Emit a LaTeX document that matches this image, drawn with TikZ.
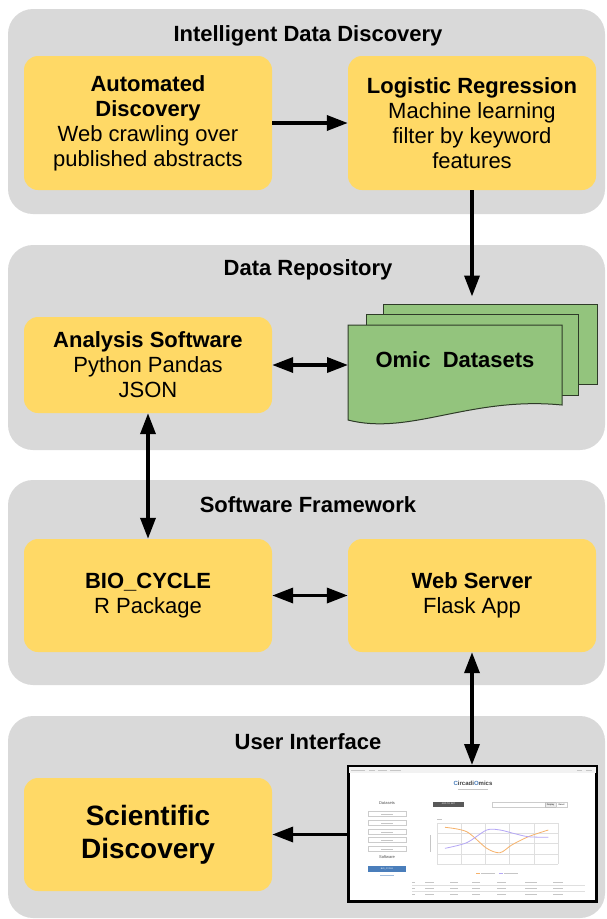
\documentclass[tikz,border=0pt]{standalone}
\usepackage{fontspec}
\setmainfont{Liberation Sans}
\usetikzlibrary{arrows.meta}
\definecolor{panelgray}{HTML}{D9D9D9}
\definecolor{boxyellow}{HTML}{FFD966}
\definecolor{sheetgreen}{HTML}{93C47D}
\definecolor{sheetline}{HTML}{2E3B28}
\definecolor{uiorange}{HTML}{F6B26B}
\definecolor{uipurple}{HTML}{B4A7F5}
\definecolor{uiblue}{HTML}{4A7EBB}
\tikzstyle{panel}=[fill=panelgray, rounded corners=25pt, minimum width=597pt, minimum height=205pt, inner sep=0pt]
\tikzstyle{panel title}=[font=\fontsize{22}{25}\selectfont\bfseries]
\tikzstyle{box}=[fill=boxyellow, rounded corners=14pt, minimum width=248pt, inner sep=0pt, align=center, font=\fontsize{22}{25}\selectfont]
\tikzstyle{sheet}=[fill=sheetgreen, draw=sheetline, line width=1pt]
\tikzstyle{one way}=[line width=3.5pt, -{Triangle[length=21pt,width=15pt]}]
\tikzstyle{two way}=[line width=3.5pt, {Triangle[length=21pt,width=15pt]}-{Triangle[length=21pt,width=15pt]}]
\tikzstyle{tiny}=[font=\fontsize{2.2}{2.5}\selectfont, inner sep=0pt]
\tikzstyle{ghost}=[fill=gray!45]
\tikzstyle{grid}=[gray!25, line width=0.3pt]

\begin{document}
\begin{tikzpicture}[x=1pt, y=-1pt]
  \useasboundingbox (0,0) rectangle (606,919);

  % layers
  \node[panel] (pdisc) at (306.5,111.5) {};
  \node[panel] (prepo) at (306.5,347.5) {};
  \node[panel] (pfram) at (306.5,582.5) {};
  \node[panel, minimum height=202pt] (puser) at (306.5,817) {};
  \node[panel title] (tdisc) at (308,36) {Intelligent Data Discovery};
  \node[panel title] (trepo) at (308,270) {Data Repository};
  \node[panel title] (tfram) at (308,505) {Software Framework};
  \node[panel title] (tuser) at (308,742) {User Interface};

  % steps
  \node[box, minimum height=134pt] (auto) at (148,123) {\textbf{Automated}\\\textbf{Discovery}\\Web crawling over\\published abstracts};
  \node[box, minimum height=134pt] (logreg) at (472,123) {\textbf{Logistic Regression}\\Machine learning\\filter by keyword\\features};
  \node[box, minimum height=96pt] (ana) at (148,365) {\textbf{Analysis Software}\\Python Pandas\\JSON};
  \node[box, minimum height=113pt] (bio) at (148,595.5) {\textbf{BIO\_CYCLE}\\R Package};
  \node[box, minimum height=113pt] (web) at (472,595.5) {\textbf{Web Server}\\Flask App};
  \node[box, minimum height=113pt, font=\fontsize{28}{33}\selectfont\bfseries] (sci) at (148,834.5) {Scientific\\Discovery};

  % datasets stack
  \node[sheet, minimum width=214pt, minimum height=80pt] (sheetback) at (490,344) {};
  \node[sheet, minimum width=212pt, minimum height=81pt] (sheetmid) at (472,354.5) {};
  \draw[sheet] (348,325) -- (562,325) -- (562,405) .. controls (470,396) and (410,436) .. (348,420) -- cycle;
  \node[font=\fontsize{22}{25}\selectfont\bfseries] (omic) at (455,360) {Omic\ \ Datasets};
  \coordinate (omicleft) at (348,365);

  % web app screenshot
  \node[draw, line width=3pt, fill=white, minimum width=248pt, minimum height=135pt, inner sep=0pt] (shot) at (472.5,834) {};
  \fill[gray!10] (349,767) rectangle (596,773);
  \foreach \x/\w in {351/14,369/6,378/9,390/11,577/5,586/6}
    \fill[ghost] (\x,769.5) rectangle (\x+\w,770.5);
  \node[font=\fontsize{6}{7}\selectfont\bfseries, text=black!75] (uititle) at (473,783) {\textcolor{uiblue}{C}ircadi\textcolor{uiblue}{O}mics};
  \fill[ghost] (458,788.5) rectangle (488,789.5);
  \node[font=\fontsize{4}{5}\selectfont, text=black!70] (uidata) at (387,803) {Datasets};
  \foreach \y in {814,823,832,840,849} {
    \draw[gray!40, line width=0.3pt] (368,\y-2.5) rectangle (406,\y+2.5);
    \fill[ghost] (381,\y-0.4) rectangle (393,\y+0.4);
  }
  \node[font=\fontsize{4}{5}\selectfont, text=black!70] (uisoft) at (387,857) {Software};
  \fill[uiblue] (368,866) rectangle (406,872);
  \node[tiny, text=white] (uibio) at (387,869) {BIO\_CYCLE};
  \fill[uiblue!50] (380,875) rectangle (394,876);
  \fill[gray!70!black] (433,801.5) rectangle (464,806.5);
  \node[tiny, text=white] (uiadd) at (448.5,804) {ADD TO SET};
  \draw[gray!40, line width=0.3pt] (492,802) rectangle (545,807);
  \draw[gray!50, fill=gray!15, line width=0.3pt] (545,802) rectangle (556,807);
  \draw[gray!40, line width=0.3pt] (556,802) rectangle (567,807);
  \node[tiny] (uidisp) at (550.5,804.5) {Display};
  \node[tiny] (uireset) at (561.5,804.5) {Reset};

  % chart
  \foreach \y in {823,833.25,843.5,853.75,864}
    \draw[grid] (437,\y) -- (558,\y);
  \foreach \x in {437,461.2,485.4,509.6,533.8,558}
    \draw[grid] (\x,823) -- (\x,864);
  \fill[ghost] (429.5,835) rectangle (430.5,852);
  \fill[ghost] (437,818.5) rectangle (442,819.5);
  \draw[uiorange, line width=0.8pt] plot[smooth] coordinates {(445,827.3) (466.7,831.7) (486.7,848.3) (500,852.7) (511.7,845) (528.3,836.7) (548.3,830)};
  \draw[uipurple, line width=0.8pt] plot[smooth] coordinates {(445,848.3) (466.7,842.7) (486.7,830) (500,830) (513.3,833.3) (528.3,836.7) (548.3,837.3)};
  \draw[uiorange, line width=0.6pt] (476,873) -- (480,873);
  \fill[ghost] (481,872.5) rectangle (495,873.5);
  \draw[uipurple, line width=0.6pt] (499,873) -- (503,873);
  \fill[ghost] (504,872.5) rectangle (518,873.5);

  % table
  \foreach \y in {885,891}
    \draw[grid] (412,\y) -- (585,\y);
  \foreach \x/\w in {412/3,425/9,450/8,472/8,497/9,525/12,553/10}
    \foreach \y in {882,888,894}
      \fill[ghost] (\x,\y-0.5) rectangle (\x+\w,\y+0.5);

  % flow
  \draw[one way] (auto.east) -- (logreg.west);
  \draw[one way, shorten >=7pt] (logreg.south) -- (logreg.south |- sheetback.north);
  \draw[two way] (ana.east) -- (omicleft);
  \draw[two way] (ana.south) -- (bio.north);
  \draw[two way] (bio.east) -- (web.west);
  \draw[two way] (web.south) -- (web.south |- shot.north);
  \draw[one way] (shot.west |- sci.east) -- (sci.east);
\end{tikzpicture}
\end{document}
